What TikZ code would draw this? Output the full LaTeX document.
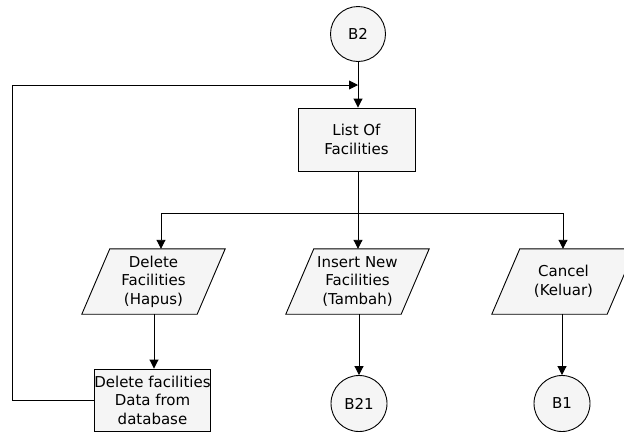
\documentclass[tikz,border=0pt]{standalone}
\usepackage{fontspec}
\setmainfont{DejaVu Sans}
\usetikzlibrary{arrows.meta,calc,backgrounds}
\definecolor{boxfill}{RGB}{245,245,245}
\tikzset{
  base/.style={draw=black,line width=0.9pt,fill=boxfill,font=\fontsize{15}{18.5}\selectfont,align=center,inner sep=0pt},
  procbox/.style={base,rectangle,minimum width=117pt,minimum height=63pt},
  conn/.style={base,circle,minimum size=55pt},
  para/.style={rectangle,inner sep=0pt,minimum width=115pt,minimum height=65pt,font=\fontsize{15}{18.5}\selectfont,align=center},
  paraline/.style={draw=black,line width=0.9pt,fill=boxfill},
  line/.style={draw=black,line width=0.9pt},
  arr/.style={line,-{Triangle[length=9pt,width=9pt]}}
}
\begin{document}
\begin{tikzpicture}[x=1pt,y=-1pt]
\clip (0,0) rectangle (624,432);
\useasboundingbox (0,0) rectangle (624,432);
% nodes
\node[conn] (b2) at (358,34) {B2};
\node[procbox] (list) at (356.5,139.5) {List Of\\Facilities};
\node[para] (del) at (153.5,281.5) {Delete\\Facilities\\(Hapus)};
\node[para] (ins) at (357.5,281.5) {Insert New\\Facilities\\(Tambah)};
\node[para] (can) at (563.5,281.5) {Cancel\\(Keluar)};
\node[procbox,minimum width=115pt,minimum height=62pt] (dbox) at (152.5,400) {Delete facilities\\Data from\\database};
\node[conn,minimum size=56pt] (b21) at (359,403.5) {B21};
\node[conn,minimum size=56pt] (b1) at (562,403.5) {B1};
% parallelogram outlines
\begin{scope}[on background layer]
\foreach \n in {del,ins,can}{
  \path[paraline] ($(\n.south west)+(-14,0)$) -- ($(\n.south east)+(-14,0)$)
     -- ($(\n.north east)+(14,0)$) -- ($(\n.north west)+(14,0)$) -- cycle;
}
\end{scope}
% coordinates
\coordinate (mrg) at (358,85);
\coordinate (fb) at (12,85);
\coordinate (split) at (358,213);
\coordinate (brL) at (161,213);
\coordinate (brR) at (563,213);
\coordinate (dcol) at (154,300);
% connectors
\draw[arr] (b2.south) -- (b2.south |- list.north);
\draw[line] (list.south -| split) -- (split);
\draw[line] (brL) -- (brR);
\draw[arr] (brL) -- (brL |- del.north);
\draw[arr] (split) -- (split |- ins.north);
\draw[arr] (brR) -- (brR |- can.north);
\draw[arr] (del.south -| dcol) -- (dbox.north -| dcol);
\draw[arr] (ins.south -| b21) -- (b21.north);
\draw[arr] (can.south -| b1) -- (b1.north);
\draw[arr] (dbox.west) -- (dbox.west -| fb) -- (fb) -- (mrg);
\end{tikzpicture}
\end{document}
